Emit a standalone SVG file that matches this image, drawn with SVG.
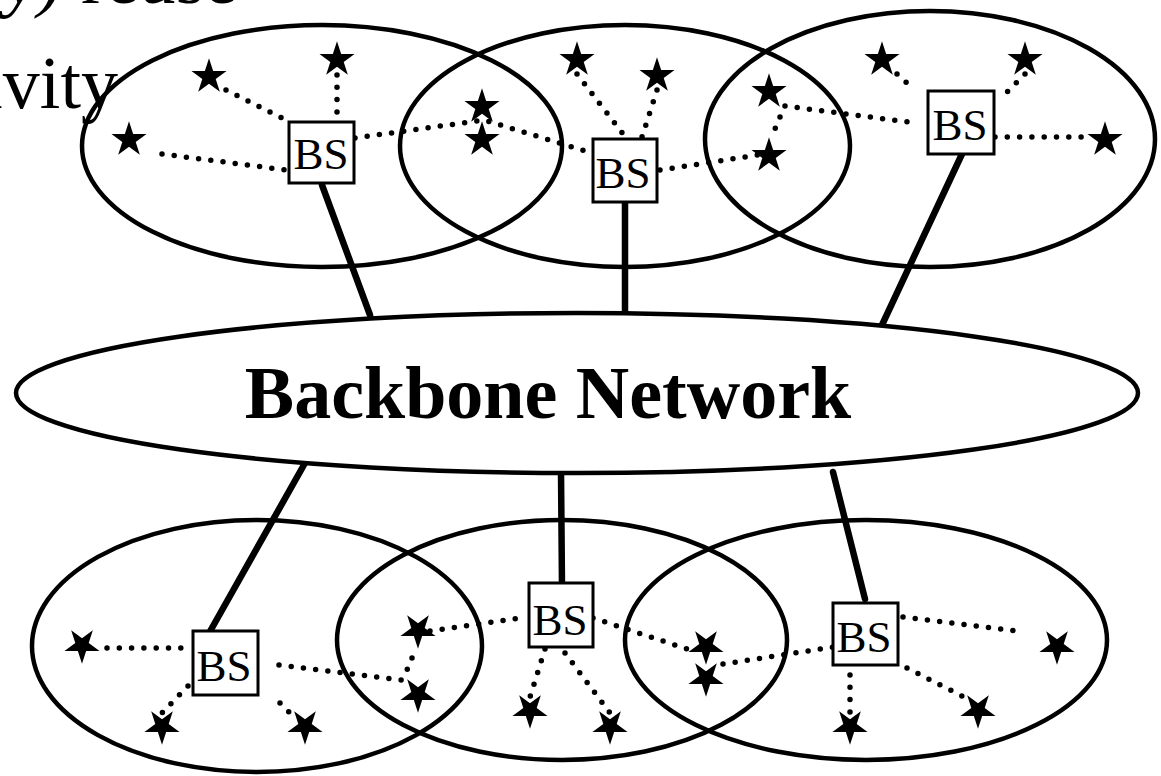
<svg xmlns="http://www.w3.org/2000/svg" width="1161" height="776" viewBox="0 0 1161 776">
  <style>
    .cell { fill: none; stroke: #000; stroke-width: 4.5; }
    .backbone { fill: #fff; stroke: #000; stroke-width: 4.5; }
    .bs rect { fill: #fff; stroke: #000; stroke-width: 3; }
    .bs text { font-family: "Liberation Serif", "Times New Roman", serif; font-size: 45px; fill: #000; text-anchor: middle; }
    .wire { stroke: #000; stroke-width: 6.5; stroke-linecap: round; fill: none; }
    .radio { stroke: #000; stroke-width: 5.5; stroke-linecap: round; stroke-dasharray: 0 12.3; fill: none; }
    .caption { font-family: "Liberation Serif", "Times New Roman", serif; font-size: 74px; fill: #000; }
    .title { font-family: "Liberation Serif", "Times New Roman", serif; font-size: 74px; font-weight: bold; fill: #000; text-anchor: middle; }
  </style>
  <defs>
    <!-- five-pointed mobile station marker, centred on its bounding box -->
    <path id="star" d="M0,-16.7 L4.15,-3.97 L17.55,-3.96 L6.71,3.92 L10.84,16.66 L0,8.79 L-10.84,16.66 L-6.71,3.92 L-17.55,-3.96 L-4.15,-3.97 Z" fill="#000"/>
  </defs>

  <rect width="1161" height="776" fill="#fff"/>

  <!-- slide text partly off the top-left edge -->
  <text class="caption" x="5" y="3"><tspan font-style="italic">y)</tspan> reuse</text>
  <text class="caption" x="118" y="108" text-anchor="end">ivity</text>

  <!-- upper cells -->
  <g id="cell-top-1"><ellipse class="cell" cx="322" cy="146" rx="240" ry="121"/></g>
  <g id="cell-top-2"><ellipse class="cell" cx="625" cy="146" rx="225" ry="121"/></g>
  <g id="cell-top-3"><ellipse class="cell" cx="930" cy="139" rx="225" ry="128"/></g>

  <!-- lower cells -->
  <g id="cell-bottom-1"><ellipse class="cell" cx="257" cy="646" rx="225" ry="126"/></g>
  <g id="cell-bottom-2"><ellipse class="cell" cx="562" cy="640" rx="225" ry="120"/></g>
  <g id="cell-bottom-3"><ellipse class="cell" cx="866" cy="640" rx="241" ry="120"/></g>

  <!-- connectors: wired links to the backbone and dotted radio links -->
  <g id="connectors">
    <line class="wire" x1="322" y1="185" x2="370" y2="315"/>
    <line class="wire" x1="625" y1="202" x2="625" y2="314"/>
    <line class="wire" x1="962" y1="154" x2="882" y2="325"/>
    <line class="wire" x1="305" y1="463" x2="208" y2="635"/>
    <line class="wire" x1="561" y1="472" x2="562" y2="587"/>
    <line class="wire" x1="833" y1="472" x2="865" y2="599"/>

    <line class="radio" x1="162" y1="154" x2="286" y2="170"/>
    <line class="radio" x1="226" y1="90" x2="284" y2="119"/>
    <line class="radio" x1="337" y1="75" x2="337" y2="116"/>
    <polyline class="radio" points="355,138 484,120 592,153"/>
    <line class="radio" x1="577" y1="74" x2="623" y2="134"/>
    <line class="radio" x1="657" y1="90" x2="642" y2="137"/>
    <line class="radio" x1="660" y1="170" x2="758" y2="155"/>
    <line class="radio" x1="780" y1="117" x2="775" y2="129"/>
    <line class="radio" x1="785" y1="106" x2="908" y2="122"/>
    <line class="radio" x1="897" y1="74" x2="908" y2="84"/>
    <line class="radio" x1="1025" y1="74" x2="999" y2="100"/>
    <line class="radio" x1="995" y1="137" x2="1082" y2="137"/>

    <line class="radio" x1="107" y1="648" x2="191" y2="648"/>
    <line class="radio" x1="188" y1="686" x2="162" y2="713"/>
    <line class="radio" x1="280" y1="703" x2="290" y2="713"/>
    <line class="radio" x1="279" y1="665" x2="402" y2="680"/>
    <line class="radio" x1="412" y1="658" x2="407" y2="670"/>
    <line class="radio" x1="430" y1="631" x2="527" y2="617"/>
    <line class="radio" x1="545" y1="649" x2="530" y2="697"/>
    <line class="radio" x1="565" y1="653" x2="610" y2="713"/>
    <line class="radio" x1="593" y1="618" x2="690" y2="650"/>
    <line class="radio" x1="723" y1="664" x2="834" y2="647"/>
    <line class="radio" x1="903" y1="617" x2="1025" y2="632"/>
    <line class="radio" x1="850" y1="675" x2="850" y2="712"/>
    <line class="radio" x1="907" y1="668" x2="962" y2="696"/>
  </g>

  <!-- backbone network -->
  <g id="backbone">
    <ellipse class="backbone" cx="577" cy="393" rx="561" ry="80"/>
    <text class="title" x="548" y="418">Backbone Network</text>
  </g>

  <!-- base stations -->
  <g id="bs-top-1" class="bs"><rect x="289" y="122" width="65" height="61"/><text x="321" y="169">BS</text></g>
  <g id="bs-top-2" class="bs"><rect x="593" y="139" width="64" height="63"/><text x="623" y="188">BS</text></g>
  <g id="bs-top-3" class="bs"><rect x="928" y="91" width="66" height="63"/><text x="960" y="140">BS</text></g>
  <g id="bs-bottom-1" class="bs"><rect x="193" y="631" width="65" height="64"/><text x="224" y="681">BS</text></g>
  <g id="bs-bottom-2" class="bs"><rect x="529" y="583" width="64" height="64"/><text x="560" y="635">BS</text></g>
  <g id="bs-bottom-3" class="bs"><rect x="833" y="603" width="65" height="62"/><text x="864" y="652">BS</text></g>

  <!-- mobile stations, upper row -->
  <g id="ms-top">
    <use href="#star" x="129" y="138"/>
    <use href="#star" x="209" y="75"/>
    <use href="#star" x="337" y="58"/>
    <use href="#star" x="482" y="105"/>
    <use href="#star" x="482" y="138"/>
    <use href="#star" x="577" y="58"/>
    <use href="#star" x="657" y="74"/>
    <use href="#star" x="769" y="90"/>
    <use href="#star" x="769" y="154"/>
    <use href="#star" x="882" y="58"/>
    <use href="#star" x="1025" y="58"/>
    <use href="#star" x="1105" y="138"/>
  </g>

  <!-- mobile stations, lower row (inverted markers) -->
  <g id="ms-bottom">
    <use href="#star" transform="translate(82,647) rotate(180)"/>
    <use href="#star" transform="translate(162,728) rotate(180)"/>
    <use href="#star" transform="translate(305,728) rotate(180)"/>
    <use href="#star" transform="translate(418,632) rotate(180)"/>
    <use href="#star" transform="translate(418,696) rotate(180)"/>
    <use href="#star" transform="translate(530,712) rotate(180)"/>
    <use href="#star" transform="translate(610,728) rotate(180)"/>
    <use href="#star" transform="translate(706,648) rotate(180)"/>
    <use href="#star" transform="translate(706,680) rotate(180)"/>
    <use href="#star" transform="translate(850,728) rotate(180)"/>
    <use href="#star" transform="translate(978,712) rotate(180)"/>
    <use href="#star" transform="translate(1057,648) rotate(180)"/>
  </g>
</svg>
